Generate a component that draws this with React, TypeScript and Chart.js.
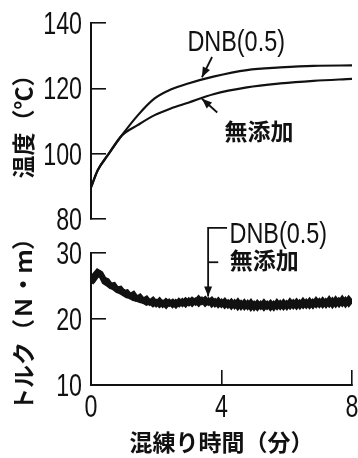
import React, { useEffect, useRef } from "react";
import { Chart, registerables } from "chart.js";
Chart.register(...registerables);

// ---- data ----
const TEMP_TIME = [0, 0.21, 0.52, 0.93, 1.44, 1.95, 2.46, 2.98, 3.75, 4.78, 5.8, 6.82, 8.0];
const TEMP_DNB = [89.7, 95.0, 99.6, 105.4, 111.8, 116.9, 119.7, 121.5, 123.6, 125.6, 126.4, 126.9, 127.0];
const TEMP_PLAIN = [89.7, 95.0, 99.6, 105.4, 108.8, 111.8, 113.9, 115.6, 118.2, 120.3, 121.5, 122.3, 122.9];

const TORQUE_TIME = [
  0.0, 0.1, 0.2, 0.3, 0.4, 0.5, 0.6, 0.7, 0.8, 0.9,
  1.0, 1.1, 1.2, 1.3, 1.4, 1.5, 1.6, 1.7, 1.8, 1.9,
  2.0, 2.1, 2.2, 2.3, 2.4, 2.5, 2.6, 2.7, 2.8, 2.9,
  3.0, 3.1, 3.2, 3.3, 3.4, 3.5, 3.6, 3.7, 3.8, 3.9,
  4.0, 4.1, 4.2, 4.3, 4.4, 4.5, 4.6, 4.7, 4.8, 4.9,
  5.0, 5.1, 5.2, 5.3, 5.4, 5.5, 5.6, 5.7, 5.8, 5.9,
  6.0, 6.1, 6.2, 6.3, 6.4, 6.5, 6.6, 6.7, 6.8, 6.9,
  7.0, 7.1, 7.2, 7.3, 7.4, 7.5, 7.6, 7.7, 7.8, 7.9, 8.0,
];
const TORQUE_DNB = [
  25.4, 26.6, 27.2, 26.9, 26.0, 25.8, 25.1, 25.2, 24.5, 24.6,
  24.0, 24.1, 23.5, 23.8, 23.1, 23.4, 22.8, 23.1, 22.5, 22.9,
  22.3, 22.8, 22.2, 22.7, 22.3, 22.6, 22.1, 22.7, 22.3, 22.8,
  22.4, 22.9, 22.5, 23.1, 22.6, 23.0, 22.5, 22.9, 22.3, 22.8,
  22.2, 22.7, 22.1, 22.6, 22.0, 22.6, 21.9, 22.5, 21.9, 22.5,
  21.8, 22.4, 21.9, 22.5, 21.9, 22.4, 21.8, 22.5, 21.9, 22.5,
  21.9, 22.6, 22.0, 22.6, 22.0, 22.7, 22.1, 22.7, 22.1, 22.8,
  22.2, 22.8, 22.2, 22.9, 22.2, 22.9, 22.3, 23.0, 22.3, 23.0, 22.4,
];
const TORQUE_PLAIN = [
  26.6, 26.0, 26.7, 26.6, 25.6, 25.3, 24.9, 24.7, 24.3, 24.1,
  23.8, 23.5, 23.4, 23.1, 23.0, 22.8, 22.7, 22.4, 22.6, 22.2,
  22.6, 22.1, 22.5, 22.0, 22.6, 22.1, 22.6, 22.2, 22.7, 22.2,
  22.8, 22.3, 22.8, 22.3, 22.9, 22.3, 22.8, 22.2, 22.7, 22.1,
  22.6, 22.0, 22.5, 21.9, 22.5, 21.8, 22.4, 21.8, 22.4, 21.7,
  22.3, 21.7, 22.3, 21.7, 22.3, 21.7, 22.3, 21.8, 22.4, 21.8,
  22.4, 21.9, 22.5, 21.9, 22.5, 22.0, 22.6, 22.0, 22.6, 22.1,
  22.7, 22.1, 22.7, 22.2, 22.8, 22.2, 22.8, 22.3, 22.9, 22.3, 22.9,
];

const X_TICKS = [0, 4, 8];
const TEMP_TICKS = [80, 100, 120, 140];
const TORQUE_TICKS = [10, 20, 30];

const LABEL_DNB = "DNB(0.5)";
const LABEL_PLAIN = "無添加";
const TITLE_TEMP = "温度（℃）";
const TITLE_TORQUE = "トルク（Ｎ・ｍ）";
const TITLE_X = "混練り時間（分）";

// ---- styles ----
const INK = "#111";
const NUM_FAMILY = '"Liberation Sans", Arial, sans-serif';
const NUM_FONT = `31px ${NUM_FAMILY}`;
const NUM_SX = 0.75; // condensed look of the original lettering
const JP_FONT = '"Noto Sans CJK JP", "Noto Sans CJK SC", sans-serif';

type Pt = [number, number];
type Ann =
  | { kind: "text"; at: Pt; text: string; font: string; sx?: number }
  | { kind: "line"; pts: Pt[]; arrow?: boolean };

const TOP_ANN: Ann[] = [
  { kind: "text", at: [4.45, 133.9], text: LABEL_DNB, font: `30px ${NUM_FAMILY}`, sx: 0.78 },
  { kind: "line", pts: [[3.71, 129.6], [3.4, 123.4]], arrow: true },
  { kind: "line", pts: [[3.87, 112.6], [3.4, 116.8]], arrow: true },
  { kind: "text", at: [5.15, 106.9], text: LABEL_PLAIN, font: `bold 23px ${JP_FONT}` },
];
const BOTTOM_ANN: Ann[] = [
  { kind: "text", at: [5.74, 32.7], text: LABEL_DNB, font: `30px ${NUM_FAMILY}`, sx: 0.78 },
  { kind: "text", at: [5.31, 28.9], text: LABEL_PLAIN, font: `bold 23px ${JP_FONT}` },
  { kind: "line", pts: [[4.17, 33.8], [3.59, 33.8], [3.59, 23.4]], arrow: true },
  { kind: "line", pts: [[3.59, 28.6], [3.9, 28.6]] },
];

function drawText(ctx: CanvasRenderingContext2D, text: string, x: number, y: number, font: string, sx: number, align: CanvasTextAlign, baseline: CanvasTextBaseline) {
  ctx.save();
  ctx.font = font;
  ctx.textAlign = align;
  ctx.textBaseline = baseline;
  ctx.fillStyle = INK;
  ctx.translate(x, y);
  ctx.scale(sx, 1);
  ctx.fillText(text, 0, 0);
  ctx.restore();
}

function makeAnnPlugin(items: Ann[], showX: boolean) {
  return {
    id: "ann",
    afterDraw(chart: any) {
      const { ctx, chartArea } = chart;
      const xs = chart.scales.x;
      const ys = chart.scales.y;
      const px = (p: Pt): Pt => [xs.getPixelForValue(p[0]), ys.getPixelForValue(p[1])];

      // tick labels, placed from the library's scales
      for (const t of ys.ticks) {
        const y = ys.getPixelForValue(t.value);
        drawText(ctx, String(t.value), chartArea.left - 9, y + 11, NUM_FONT, NUM_SX, "right", "alphabetic");
      }
      if (showX) {
        for (const t of xs.ticks) {
          const x = xs.getPixelForValue(t.value);
          drawText(ctx, String(t.value), x, chartArea.bottom + 32, NUM_FONT, NUM_SX, "center", "alphabetic");
        }
      }

      ctx.save();
      ctx.strokeStyle = INK;
      ctx.fillStyle = INK;
      ctx.lineWidth = 1.8;
      for (const it of items) {
        if (it.kind === "text") {
          const [x, y] = px(it.at);
          drawText(ctx, it.text, x, y, it.font, it.sx ?? 1, "center", "middle");
        } else {
          const pts = it.pts.map(px);
          ctx.beginPath();
          ctx.moveTo(pts[0][0], pts[0][1]);
          for (let i = 1; i < pts.length; i++) ctx.lineTo(pts[i][0], pts[i][1]);
          ctx.stroke();
          if (it.arrow) {
            const a = pts[pts.length - 2];
            const b = pts[pts.length - 1];
            const ang = Math.atan2(b[1] - a[1], b[0] - a[0]);
            const L = 10, W = 4;
            ctx.beginPath();
            ctx.moveTo(b[0], b[1]);
            ctx.lineTo(b[0] - L * Math.cos(ang) + W * Math.sin(ang), b[1] - L * Math.sin(ang) - W * Math.cos(ang));
            ctx.lineTo(b[0] - L * Math.cos(ang) - W * Math.sin(ang), b[1] - L * Math.sin(ang) + W * Math.cos(ang));
            ctx.closePath();
            ctx.fill();
          }
        }
      }
      ctx.restore();
    },
  };
}

function yAxis(min: number, max: number, ticks: number[], title: string) {
  return {
    type: "linear",
    min,
    max,
    afterBuildTicks: (s: any) => {
      s.ticks = ticks.map((v) => ({ value: v }));
    },
    afterFit: (s: any) => {
      s.width = 91;
    },
    grid: { drawOnChartArea: false, tickLength: -15, color: INK, lineWidth: 1.6 },
    border: { color: INK, width: 2 },
    ticks: { display: false },
    title: {
      display: true,
      text: title,
      color: INK,
      font: { family: JP_FONT, size: 23, weight: "bold" },
      padding: { top: 9, bottom: 0 },
    },
  };
}

const lineDs = (label: string, xs: number[], ys: number[], width: number, monotone: boolean) => ({
  label,
  data: xs.map((t, i) => ({ x: t, y: ys[i] })),
  borderColor: INK,
  borderWidth: width,
  pointRadius: 0,
  fill: false,
  cubicInterpolationMode: monotone ? "monotone" : "default",
  tension: 0,
});

export default function App() {
  const topRef = useRef<HTMLCanvasElement>(null);
  const botRef = useRef<HTMLCanvasElement>(null);

  useEffect(() => {
    const top = new Chart(topRef.current!, {
      type: "line",
      data: {
        datasets: [
          lineDs(LABEL_DNB, TEMP_TIME, TEMP_DNB, 2.2, true),
          lineDs(LABEL_PLAIN, TEMP_TIME, TEMP_PLAIN, 2.2, true),
        ] as any,
      },
      options: {
        animation: false,
        responsive: false,
        devicePixelRatio: 1,
        layout: { padding: { top: 23, bottom: 21, left: 0, right: 6 } },
        plugins: { legend: { display: false }, tooltip: { enabled: false } },
        scales: {
          x: { type: "linear", min: 0, max: 8, display: false },
          y: yAxis(80, 140, TEMP_TICKS, TITLE_TEMP) as any,
        },
      },
      plugins: [makeAnnPlugin(TOP_ANN, false)],
    });

    const bot = new Chart(botRef.current!, {
      type: "line",
      data: {
        datasets: [
          lineDs(LABEL_DNB, TORQUE_TIME, TORQUE_DNB, 5.5, false),
          lineDs(LABEL_PLAIN, TORQUE_TIME, TORQUE_PLAIN, 5, false),
        ] as any,
      },
      options: {
        animation: false,
        responsive: false,
        devicePixelRatio: 1,
        layout: { padding: { top: 38, bottom: 0, left: 0, right: 6 } },
        plugins: { legend: { display: false }, tooltip: { enabled: false } },
        scales: {
          x: {
            type: "linear",
            min: 0,
            max: 8,
            afterBuildTicks: (s: any) => {
              s.ticks = X_TICKS.map((v) => ({ value: v }));
            },
            afterFit: (s: any) => {
              s.height = 73;
            },
            grid: { drawOnChartArea: false, tickLength: -15, color: INK, lineWidth: 1.6 },
            border: { color: INK, width: 2 },
            ticks: { display: false },
            title: {
              display: true,
              text: TITLE_X,
              color: INK,
              font: { family: JP_FONT, size: 23, weight: "bold" },
              padding: { top: 0, bottom: 2 },
            },
          } as any,
          y: yAxis(10, 30, TORQUE_TICKS, TITLE_TORQUE) as any,
        },
      },
      plugins: [makeAnnPlugin(BOTTOM_ANN, true)],
    });

    return () => {
      top.destroy();
      bot.destroy();
    };
  }, []);

  return (
    <div style={{ position: "fixed", left: 0, top: 0, width: 358, height: 458, background: "#fff" }}>
      <canvas ref={topRef} width={358} height={240} style={{ position: "absolute", left: 0, top: 0, width: 358, height: 240 }} />
      <canvas ref={botRef} width={358} height={243} style={{ position: "absolute", left: 0, top: 215, width: 358, height: 243 }} />
    </div>
  );
}
